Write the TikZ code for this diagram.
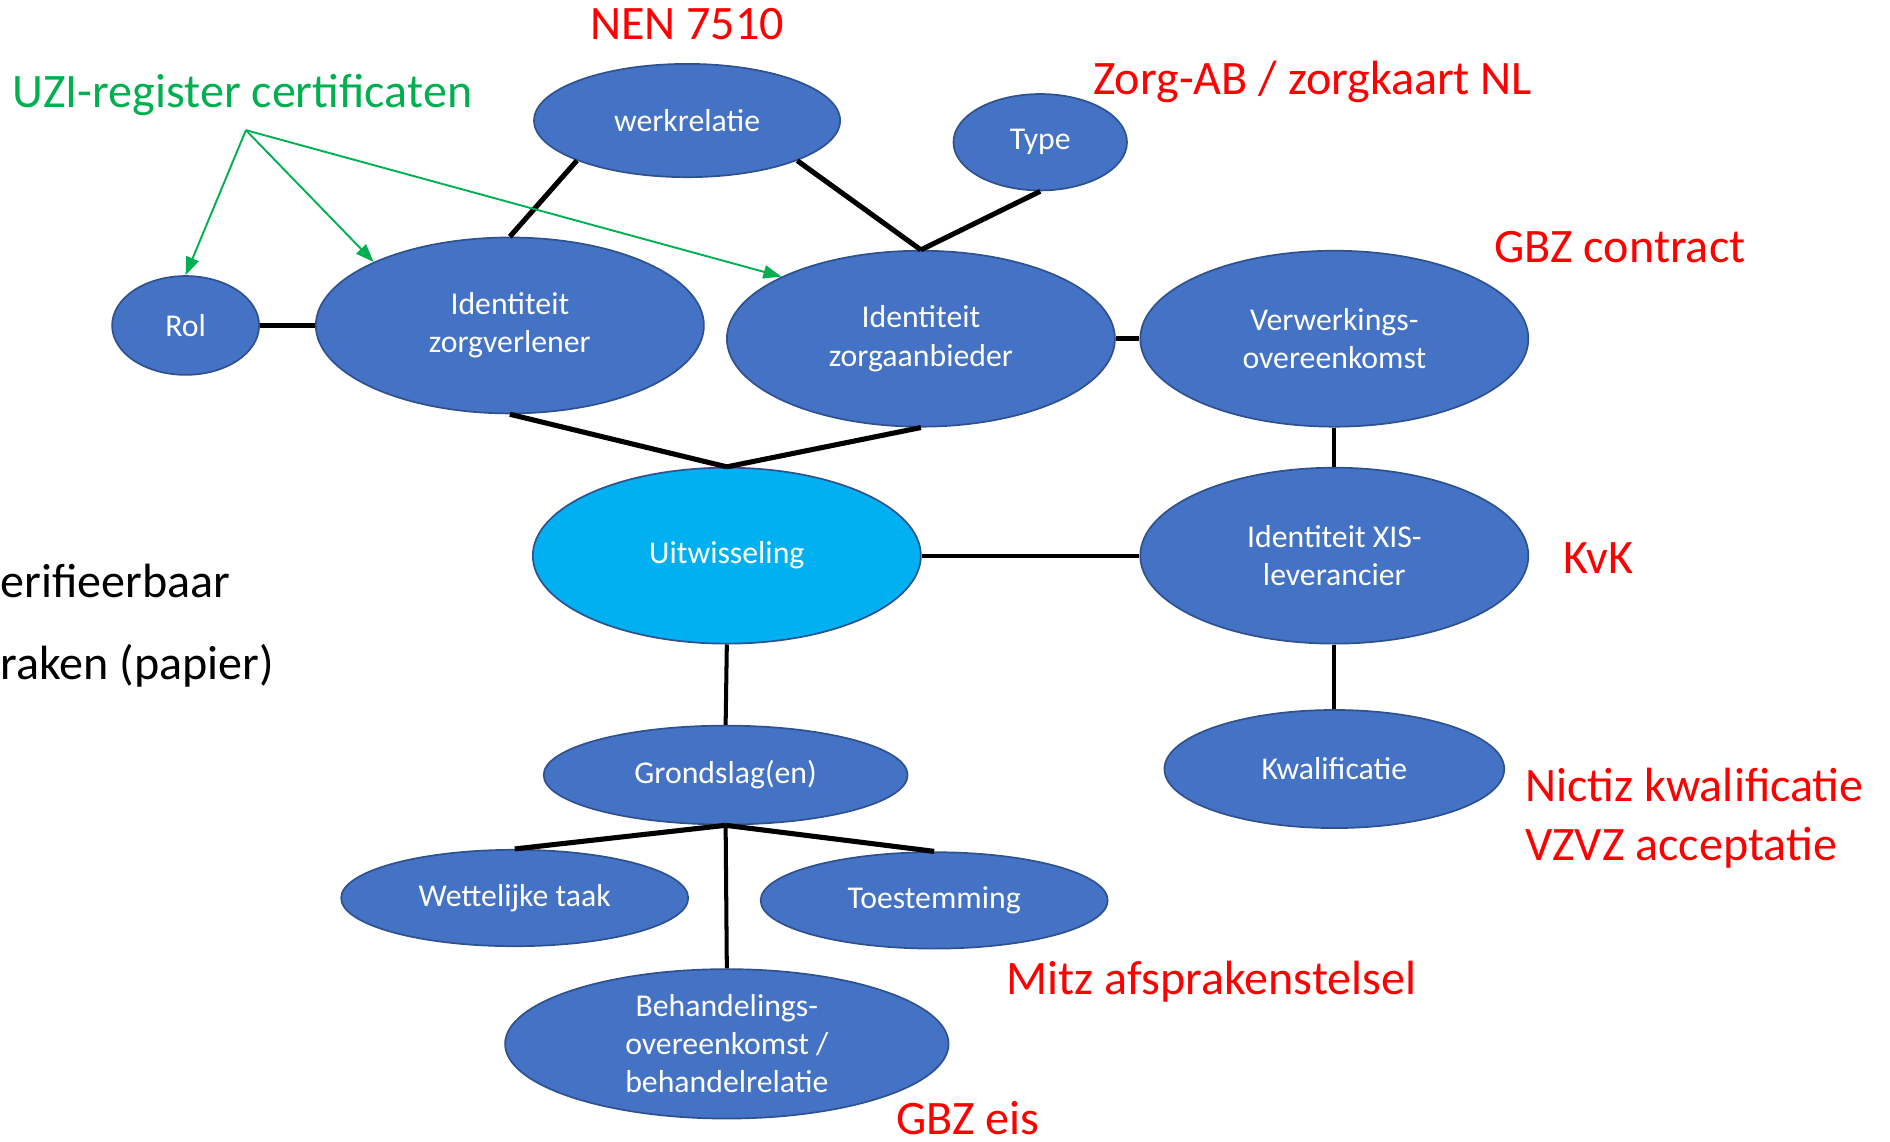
\documentclass[tikz,border=0pt]{standalone}
\usepackage{fontspec}
\setmainfont{Carlito}
\usepackage{xcolor}
\usepackage{tikz}
\usetikzlibrary{shapes,arrows,positioning,arrows.meta}
\definecolor{bubblefill}{HTML}{4472C4}
\definecolor{bubbleedge}{HTML}{2F528F}
\definecolor{uitfill}{HTML}{00B0F0}
\definecolor{uzigreen}{HTML}{00B050}
\definecolor{notered}{HTML}{FF0000}

\begin{document}
\begin{tikzpicture}[x=0.02cm, y=-0.02cm,
    bubble/.style={ellipse, draw=bubbleedge, line width=0.8pt, fill=bubblefill, text=white, align=center, inner sep=0pt, font=\fontsize{15}{18}\selectfont},
    big/.style={bubble, minimum width=6.44cm, minimum height=2.92cm},
    link/.style={line width=2.4pt},
    thinlink/.style={line width=1.9pt},
    uziarrow/.style={uzigreen, line width=0.9pt, -{Triangle[length=3mm,width=2.2mm]}},
    note/.style={text=notered, inner sep=0pt, font=\fontsize{22.7}{27}\selectfont}]
    \useasboundingbox (0,0) rectangle (1568,947);

    % ellipses
    \node [bubble, minimum width=5.08cm, minimum height=1.88cm] (werkrelatie) at (570,100) {werkrelatie};
    \node [bubble, minimum width=2.88cm, minimum height=1.60cm] (type) at (863,118) {Type};
    \node [bubble, minimum width=2.44cm, minimum height=1.64cm] (rol) at (154,270) {Rol};
    \node [big] (zorgverlener) at (423,270) {Identiteit\\zorgverlener};
    \node [big] (zorgaanbieder) at (764,281) {Identiteit\\zorgaanbieder};
    \node [big] (verwerking) at (1107,281) {Verwerkings-\\overeenkomst};
    \node [big, fill=uitfill] (uitwisseling) at (603,461) {Uitwisseling};
    \node [big] (xis) at (1107,461) {Identiteit XIS-\\leverancier};
    \node [bubble, minimum width=6.04cm, minimum height=1.64cm] (grondslag) at (602,643) {Grondslag(en)};
    \node [bubble, minimum width=5.64cm, minimum height=1.96cm] (kwalificatie) at (1107,638) {Kwalificatie};
    \node [bubble, minimum width=5.76cm, minimum height=1.60cm] (wettelijk) at (427,745) {Wettelijke taak};
    \node [bubble, minimum width=5.76cm, minimum height=1.60cm] (toestemming) at (775,747) {Toestemming};
    \node [bubble, minimum width=7.36cm, minimum height=2.48cm] (behandel) at (603,866) {Behandelings-\\overeenkomst /\\behandelrelatie};

    % connectors
    \draw [link] (werkrelatie.-160) -- (zorgverlener.north);
    \draw [link] (werkrelatie.-20) -- (zorgaanbieder.north);
    \draw [link] (type.south) -- (zorgaanbieder.north);
    \draw [link] (rol.east) -- (zorgverlener.west);
    \draw [link] (zorgaanbieder.east) -- (verwerking.west);
    \draw [link] (zorgverlener.south) -- (uitwisseling.north);
    \draw [link] (zorgaanbieder.south) -- (uitwisseling.north);
    \draw [thinlink] (verwerking.south) -- (xis.north);
    \draw [thinlink] (uitwisseling.east) -- (xis.west);
    \draw [thinlink] (uitwisseling.south) -- (grondslag.north);
    \draw [thinlink] (xis.south) -- (kwalificatie.north);
    \draw [link] (grondslag.south) -- (wettelijk.north);
    \draw [link] (grondslag.south) -- (toestemming.north);
    \draw [thinlink] (grondslag.south) -- (behandel.north);

    \coordinate (uzisrc) at (204,108);
    \draw [uziarrow] (uzisrc) -- (rol.north);
    \draw [uziarrow] (uzisrc) -- (zorgverlener.155);
    \draw [uziarrow] (uzisrc) -- (zorgaanbieder.156);

    % labels
    \node [note, text=uzigreen, anchor=base] (uzitext) at (201,89) {UZI-register certificaten};
    \node [note, anchor=base] (nen) at (570,33) {NEN 7510};
    \node [note, anchor=base] (zorgab) at (1089,78) {Zorg-AB / zorgkaart NL};
    \node [note, anchor=base] (gbzcontract) at (1344,218) {GBZ contract};
    \node [note, anchor=base] (kvk) at (1326,476) {KvK};
    \node [note, anchor=base west] (nictiz) at (1265,665) {Nictiz kwalificatie};
    \node [note, anchor=base west] (vzvz) at (1265,714) {VZVZ acceptatie};
    \node [note, anchor=base] (mitz) at (1005,825) {Mitz afsprakenstelsel};
    \node [note, anchor=base] (gbzeis) at (803,941) {GBZ eis};
    \node [note, text=black, anchor=base west] (verif) at (0,496) {erifieerbaar};
    \node [note, text=black, anchor=base west] (papier) at (0,564) {raken (papier)};
\end{tikzpicture}
\end{document}
